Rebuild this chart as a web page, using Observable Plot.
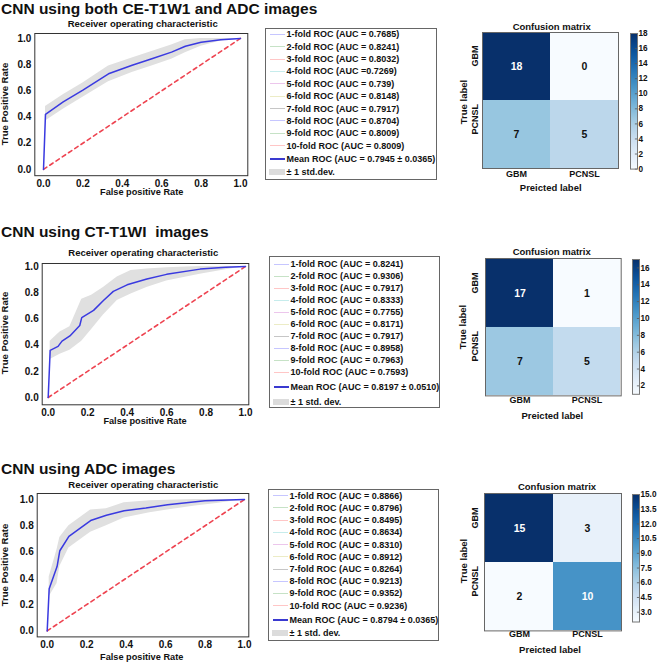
<!DOCTYPE html>
<html><head><meta charset="utf-8">
<script src="https://cdn.jsdelivr.net/npm/d3@7"></script>
<script src="https://cdn.jsdelivr.net/npm/@observablehq/plot@0.6"></script>
<style>
body{margin:0;background:#fff;}
#root{position:relative;width:657px;height:664px;overflow:hidden;background:#fff;font-family:"Liberation Sans",Arial,sans-serif;font-weight:bold;color:#111;}
.t{position:absolute;white-space:pre;line-height:1;}
.legend{position:absolute;border:1px solid #666;background:#fff;box-sizing:border-box;}
</style></head><body><div id="root"></div><script>
// ---------------- data ----------------
const rowTitles = ["CNN using both CE-T1W1 and ADC images", "CNN using CT-T1WI  images", "CNN using ADC images"];
const rocTitle = "Receiver operating characteristic";
const xLabel = "False positive Rate";
const yLabel = "True Positive Rate";
const rocTicks = [0, 0.2, 0.4, 0.6, 0.8, 1.0];
const diagX = [0, 1];
const diagY = [0, 1];

// Mean ROC curves
const mean1X = [0, 0.01, 0.1, 0.2, 0.33, 0.45, 0.55, 0.65, 0.72, 0.8, 0.9, 1.0];
const mean1Y = [0, 0.42, 0.515, 0.605, 0.73, 0.795, 0.845, 0.895, 0.94, 0.97, 0.99, 1.0];
const mean2X = [0, 0.01, 0.05, 0.07, 0.11, 0.16, 0.17, 0.23, 0.28, 0.33, 0.4, 0.5, 0.6, 0.77, 0.9, 1.0];
const mean2Y = [0, 0.36, 0.39, 0.43, 0.47, 0.55, 0.61, 0.665, 0.74, 0.81, 0.86, 0.905, 0.94, 0.98, 0.995, 1.0];
const mean3X = [0, 0.01, 0.05, 0.064, 0.11, 0.22, 0.3, 0.39, 0.5, 0.61, 0.8, 1.0];
const mean3Y = [0, 0.32, 0.49, 0.61, 0.72, 0.84, 0.88, 0.915, 0.935, 0.96, 0.99, 1.0];

// +/- 1 std band
const band1X  = [0.01, 0.1, 0.2, 0.33, 0.45, 0.55, 0.65, 0.72, 0.8, 0.9, 1.0];
const band1Lo = [0.37, 0.46, 0.55, 0.67, 0.74, 0.79, 0.84, 0.89, 0.94, 0.98, 1.0];
const band1Hi = [0.48, 0.57, 0.66, 0.79, 0.85, 0.90, 0.95, 0.99, 1.0, 1.0, 1.0];
const band2X  = [0.01, 0.06, 0.11, 0.17, 0.22, 0.28, 0.35, 0.42, 0.5, 0.6, 0.77, 0.9, 1.0];
const band2Lo = [0.29, 0.33, 0.36, 0.43, 0.52, 0.63, 0.74, 0.79, 0.84, 0.89, 0.94, 0.975, 1.0];
const band2Hi = [0.43, 0.50, 0.54, 0.75, 0.78, 0.84, 0.92, 0.97, 0.98, 0.99, 1.0, 1.0, 1.0];
const band3X  = [0.01, 0.05, 0.064, 0.11, 0.22, 0.3, 0.39, 0.52, 0.61, 0.75, 0.86, 1.0];
const band3Lo = [0.26, 0.36, 0.49, 0.63, 0.75, 0.80, 0.86, 0.90, 0.92, 0.95, 0.97, 1.0];
const band3Hi = [0.41, 0.62, 0.71, 0.80, 0.92, 0.93, 0.975, 0.99, 0.995, 1.0, 1.0, 1.0];

// Legend labels
const legend1 = ["1-fold ROC (AUC = 0.7685)", "2-fold ROC (AUC = 0.8241)", "3-fold ROC (AUC = 0.8032)", "4-fold ROC (AUC =0.7269)", "5-fold ROC (AUC = 0.739)", "6-fold ROC (AUC = 0.8148)", "7-fold ROC (AUC = 0.7917)", "8-fold ROC (AUC = 0.8704)", "9-fold ROC (AUC = 0.8009)", "10-fold ROC (AUC = 0.8009)", "Mean ROC (AUC = 0.7945 \u00b1 0.0365)", "\u00b1 1 std.dev."];
const legend2 = ["1-fold ROC (AUC = 0.8241)", "2-fold ROC (AUC = 0.9306)", "3-fold ROC (AUC = 0.7917)", "4-fold ROC (AUC = 0.8333)", "5-fold ROC (AUC = 0.7755)", "6-fold ROC (AUC = 0.8171)", "7-fold ROC (AUC = 0.7917)", "8-fold ROC (AUC = 0.8958)", "9-fold ROC (AUC = 0.7963)", "10-fold ROC (AUC = 0.7593)", "Mean ROC (AUC = 0.8197 \u00b1 0.0510)", "\u00b1 1 std. dev."];
const legend3 = ["1-fold ROC (AUC = 0.8866)", "2-fold ROC (AUC = 0.8796)", "3-fold ROC (AUC = 0.8495)", "4-fold ROC (AUC = 0.8634)", "5-fold ROC (AUC = 0.8310)", "6-fold ROC (AUC = 0.8912)", "7-fold ROC (AUC = 0.8264)", "8-fold ROC (AUC = 0.9213)", "9-fold ROC (AUC = 0.9352)", "10-fold ROC (AUC = 0.9236)", "Mean ROC (AUC = 0.8794 \u00b1 0.0365)", "\u00b1 1 std. dev."];
const foldColors = ["#c6c6ff", "#c6e2c6", "#ffc6c6", "#c6ecec", "#ecc6ec", "#ececc6", "#c6c6c6", "#c6c6ff", "#c6e2c6", "#ffc6c6"];

// Confusion matrices (rows = true label, cols = predicted)
const classes = ["GBM", "PCNSL"];
const cm1 = [18, 0, 7, 5];
const cm2 = [17, 1, 7, 5];
const cm3 = [15, 3, 2, 10];
const cbTicks1 = [0, 2, 4, 6, 8, 10, 12, 14, 16, 18];
const cbTicks2 = [2, 4, 6, 8, 10, 12, 14, 16];
const cbTicks3 = [3.0, 4.5, 6.0, 7.5, 9.0, 10.5, 12.0, 13.5, 15.0];

// ---------------- drawing ----------------
const FONT = '"Liberation Sans", Arial, sans-serif';
const root = document.getElementById("root");
const baseStyle = {fontFamily: FONT, fontSize: "10px", fontWeight: "bold", color: "#111", background: "transparent", overflow: "visible"};

function txt(s, x, y, size, anchor = "middle", rot = 0) {
  const d = document.createElement("div");
  d.className = "t"; d.textContent = s;
  d.style.fontSize = size + "px"; d.style.left = x + "px"; d.style.top = y + "px";
  const tx = anchor === "start" ? "0" : anchor === "end" ? "-100%" : "-50%";
  d.style.transform = `translate(${tx},-50%)` + (rot ? ` rotate(${rot}deg)` : "");
  root.append(d);
}
function place(el, x, y) {
  el.style.position = "absolute"; el.style.left = x + "px"; el.style.top = y + "px";
  root.append(el);
}

function rocPlot(c, mX, mY, bX, bLo, bHi) {
  const ux = c.x1 - c.x0, uy = c.y0 - c.y1;
  const xd = [(c.l - c.x0) / ux, (c.r - c.x0) / ux];
  const yd = [(c.y0 - c.b) / uy, (c.y0 - c.t) / uy];
  const mT = 4, mB = 16, mR = 6;
  const band = bX.map((x, i) => ({x, lo: bLo[i], hi: bHi[i]}));
  const mean = mX.map((x, i) => ({x, y: mY[i]}));
  const diag = diagX.map((x, i) => ({x, y: diagY[i]}));
  const svg = Plot.plot({
    width: c.r + mR, height: c.b - c.t + mT + mB,
    marginLeft: c.l, marginRight: mR, marginTop: mT, marginBottom: mB,
    style: baseStyle,
    x: {domain: xd}, y: {domain: yd},
    marks: [
      Plot.areaY(band, {x: "x", y1: "lo", y2: "hi", fill: "#e0e0e0"}),
      Plot.line(diag, {x: "x", y: "y", stroke: "#ee4451", strokeWidth: 1.6, strokeDasharray: "4,3.5"}),
      Plot.line(mean, {x: "x", y: "y", stroke: "#3a3ae0", strokeWidth: 1.5}),
      Plot.frame({stroke: "#333", strokeWidth: 1}),
      Plot.axisX({ticks: rocTicks, tickFormat: d3.format(".1f"), tickSize: 0, tickPadding: 4, label: null}),
      Plot.axisY({ticks: rocTicks, tickFormat: d3.format(".1f"), tickSize: 0, tickPadding: 3.5, label: null})
    ]
  });
  place(svg, 0, c.t - mT);
  txt(rocTitle, c.titleX, c.titleY, 9.5);
  txt(yLabel, 5, (c.t + c.b) / 2, 9.5, "middle", -90);
  txt(xLabel, c.xlabX, c.xlabY, 9.2);
}

function legend(b, labels) {
  const box = document.createElement("div");
  box.className = "legend";
  box.style.left = b.l + "px"; box.style.top = b.t + "px";
  box.style.width = b.w + "px"; box.style.height = b.h + "px";
  root.append(box);
  labels.forEach((s, i) => {
    let y;
    if (i < 10) y = b.t + b.first + i * b.step;
    else if (i === 10) y = b.t + b.mean;
    else y = b.t + b.std;
    const sw = document.createElement("div");
    sw.style.position = "absolute";
    if (i < 10) {
      sw.style.left = (b.l + 5) + "px"; sw.style.width = "15px"; sw.style.height = "1px";
      sw.style.top = (y - 0.5) + "px"; sw.style.background = foldColors[i];
    } else if (i === 10) {
      sw.style.left = (b.l + 5) + "px"; sw.style.width = "15px"; sw.style.height = "2px";
      sw.style.top = (y - 1) + "px"; sw.style.background = "#3a3ad0";
    } else {
      sw.style.left = (b.l + 4) + "px"; sw.style.width = "16px"; sw.style.height = "6px";
      sw.style.top = (y - 3) + "px"; sw.style.background = "#dcdcdc";
    }
    root.append(sw);
    txt(s, b.l + 21.5, y, 9, "start");
  });
}

function cmPlot(c, values) {
  const data = [];
  classes.forEach((t, i) => classes.forEach((p, j) => data.push({t, p, v: values[i * 2 + j]})));
  const vmin = d3.min(values), vmax = d3.max(values);
  const mL = 22, mR = 2, mT = 2, mB = 18;
  const svg = Plot.plot({
    width: c.r - c.l + mL + mR, height: c.b - c.t + mT + mB,
    marginLeft: mL, marginRight: mR, marginTop: mT, marginBottom: mB,
    style: baseStyle,
    x: {type: "band", domain: classes, padding: 0, axis: null},
    y: {type: "band", domain: classes, padding: 0, axis: null},
    color: {type: "linear", scheme: "blues", domain: [vmin, vmax]},
    marks: [
      Plot.cell(data, {x: "p", y: "t", fill: "v", inset: 0}),
      Plot.text(data.filter(d => d.v > vmax / 2), {x: "p", y: "t", text: d => String(d.v), fill: "white", fontSize: 10.5, fontWeight: "bold"}),
      Plot.text(data.filter(d => d.v <= vmax / 2), {x: "p", y: "t", text: d => String(d.v), fill: "#111", fontSize: 10.5, fontWeight: "bold"}),
      Plot.frame({stroke: "#666", strokeWidth: 1}),
      Plot.text(classes, {x: d => d, text: d => d, frameAnchor: "bottom", dy: c.xdy, fontSize: 9, fill: "#111"}),
      Plot.text(classes, {y: d => d, text: d => d, frameAnchor: "left", dx: -c.ydx, rotate: -90, fontSize: 9, fill: "#111"})
    ]
  });
  place(svg, c.l - mL, c.t - mT);
  txt("Confusion matrix", c.titleX, c.titleY, 9.5);
  txt("True label", c.tlX, c.tlY, 9.5, "middle", -90);
  txt("Preicted label", c.plX, c.plY, 9.5);
}

function cbar(c, values, ticks, fmt) {
  const vmin = d3.min(values), vmax = d3.max(values);
  const mT = 6, mB = 6, mR = 18;
  const svg = Plot.plot({
    width: c.r - c.l + mR, height: c.b - c.t + mT + mB,
    marginLeft: 0, marginRight: mR, marginTop: mT, marginBottom: mB,
    style: baseStyle,
    x: {domain: [0, 1], axis: null},
    y: {domain: [vmin, vmax]},
    color: {type: "linear", scheme: "blues", domain: [vmin, vmax]},
    marks: [
      Plot.raster({fill: (x, y) => y, x1: 0, x2: 1, y1: vmin, y2: vmax}),
      Plot.ruleY(ticks, {x1: 0.7, x2: 1, stroke: "#555", strokeWidth: 0.8}),
      Plot.frame({stroke: "#777", strokeWidth: 1}),
      Plot.axisY({anchor: "right", ticks, tickFormat: fmt, tickSize: 0, tickPadding: 1, fontSize: 8.2, label: null})
    ]
  });
  place(svg, c.l, c.t - mT);
}

// Row titles
txt(rowTitles[0], 1, 8.5, 15.5, "start");
txt(rowTitles[1], 1, 231.7, 15.5, "start");
txt(rowTitles[2], 1, 469.3, 15.5, "start");

// ROC plots
rocPlot({l: 34.3, r: 247.3, t: 32.8, b: 175, x0: 43, x1: 240, y0: 168.7, y1: 37.7, titleX: 142.7, titleY: 24.3, xlabX: 141.7, xlabY: 192.7},
  mean1X, mean1Y, band1X, band1Lo, band1Hi);
rocPlot({l: 41.7, r: 248.3, t: 262.7, b: 404, x0: 47.7, x1: 245, y0: 396.7, y1: 265.7, titleX: 143.3, titleY: 252.7, xlabX: 145, xlabY: 422},
  mean2X, mean2Y, band2X, band2Lo, band2Hi);
rocPlot({l: 36.7, r: 248.3, t: 493.3, b: 636.7, x0: 46.7, x1: 244, y0: 630.7, y1: 499.3, titleX: 143.3, titleY: 485, xlabX: 141.7, xlabY: 658.3},
  mean3X, mean3Y, band3X, band3Lo, band3Hi);

// Legends
legend({l: 265, t: 28, w: 172, h: 152, first: 6.3, step: 12.37, mean: 131.3, std: 143.7}, legend1);
legend({l: 269, t: 256, w: 171, h: 152, first: 8, step: 12.03, mean: 130.7, std: 145.7}, legend2);
legend({l: 268, t: 489, w: 171, h: 152, first: 6.7, step: 12.22, mean: 131, std: 143.7}, legend3);

// Confusion matrices
cmPlot({l: 482, r: 618, t: 32, b: 168, xdy: 8.7, ydx: 7, titleX: 551.7, titleY: 26.7, tlX: 464.3, tlY: 102, plX: 550.7, plY: 188.3}, cm1);
cmPlot({l: 485, r: 620.7, t: 258.3, b: 395.7, xdy: 7.6, ydx: 10, titleX: 551.7, titleY: 251.7, tlX: 463.3, tlY: 327, plX: 552.3, plY: 416}, cm2);
cmPlot({l: 484, r: 621, t: 493.3, b: 630.7, xdy: 6.6, ydx: 9, titleX: 557, titleY: 486.7, tlX: 464.3, tlY: 561, plX: 550, plY: 650}, cm3);

// Colorbars
cbar({l: 630, r: 637, t: 32.7, b: 168.3}, cm1, cbTicks1, d3.format("d"));
cbar({l: 631.5, r: 638.5, t: 259.3, b: 394.1}, cm2, cbTicks2, d3.format("d"));
cbar({l: 631.5, r: 638.5, t: 494, b: 621.5}, cm3, cbTicks3, d3.format(".1f"));
</script></body></html>
